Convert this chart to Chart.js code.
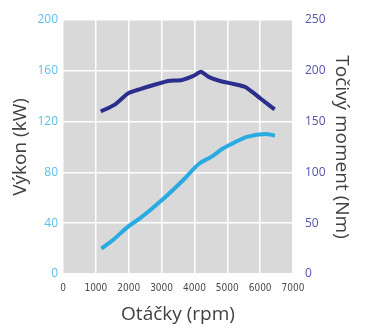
<!DOCTYPE html>
<html>
<head>
<meta charset="utf-8">
<script src="https://cdn.jsdelivr.net/npm/chart.js@4/dist/chart.umd.min.js"></script>
<style>
  html, body { margin: 0; padding: 0; background: #fff; }
  #wrap { width: 366px; height: 331px; }
</style>
</head>
<body>
<div id="wrap"><canvas id="myChart" width="366" height="331"></canvas></div>
<script>
// rpm values + readings
const powerRpm = [1170, 1530, 1990, 2350, 2960, 3660, 4150, 4500, 4880, 5250, 5600, 6160, 6450];
const powerKw = [20, 27, 37.5, 44, 57, 74, 87, 92, 99, 104, 108, 110.3, 109];
const torqueRpm = [1150, 1590, 1990, 2350, 2860, 3210, 3620, 3970, 4200, 4430, 4780, 5200, 5550, 6000, 6440];
const torqueNm = [160, 167, 178, 182, 187, 190, 191, 195, 199, 194, 190, 187, 184, 173, 162];
const xTicks = [0, 1000, 2000, 3000, 4000, 5000, 6000, 7000];
const leftTicks = [0, 40, 80, 120, 160, 200];
const rightTicks = [0, 50, 100, 150, 200, 250];

const toPoints = (xs, ys) => xs.map((x, i) => ({ x: x, y: ys[i] }));

// grey plot background
const plotBg = {
  id: 'plotBg',
  beforeDraw(chart) {
    const { ctx, chartArea } = chart;
    ctx.save();
    ctx.fillStyle = '#d9d9d9';
    ctx.fillRect(chartArea.left, chartArea.top, chartArea.right - chartArea.left, chartArea.bottom - chartArea.top);
    ctx.restore();
  }
};

const titleFont = { family: "'Open Sans', 'Noto Sans', sans-serif", size: 19 };

new Chart(document.getElementById('myChart').getContext('2d'), {
  type: 'line',
  data: {
    datasets: [
      {
        label: 'Výkon',
        data: toPoints(powerRpm, powerKw),
        yAxisID: 'y',
        borderColor: '#29abe2',
        borderWidth: 4,
        pointRadius: 0,
        tension: 0.3,
        cubicInterpolationMode: 'monotone'
      },
      {
        label: 'Točivý moment',
        data: toPoints(torqueRpm, torqueNm),
        yAxisID: 'y1',
        borderColor: '#2b2e8c',
        borderWidth: 4,
        pointRadius: 0,
        tension: 0.2
      }
    ]
  },
  options: {
    responsive: false,
    animation: false,
    layout: { padding: { top: 20, left: 0, right: 0, bottom: 0 } },
    plugins: { legend: { display: false }, tooltip: { enabled: false } },
    scales: {
      x: {
        type: 'linear',
        min: 0,
        max: 7000,
        afterBuildTicks: (s) => { s.ticks = xTicks.map(v => ({ value: v })); },
        afterFit: (s) => { s.height = 57; },
        grid: { color: '#ffffff', lineWidth: 1.5, drawTicks: false },
        border: { display: false },
        ticks: {
          padding: 8,
          maxRotation: 0,
          color: '#4a4a4a',
          font: { family: "'Liberation Sans Narrow', 'DejaVu Sans Condensed', sans-serif", size: 10 },
          callback: (v) => String(v)
        },
        title: { display: true, text: 'Otáčky (rpm)', color: '#404040', font: titleFont, padding: { top: 0, bottom: 5 } }
      },
      y: {
        position: 'left',
        min: 0,
        max: 200,
        afterBuildTicks: (s) => { s.ticks = leftTicks.map(v => ({ value: v })); },
        afterFit: (s) => { s.width = 63; },
        grid: { color: '#ffffff', lineWidth: 1.5, drawTicks: false },
        border: { display: false },
        ticks: { padding: 5, color: '#5bbfea', font: { family: "'Open Sans', sans-serif", size: 12 } },
        title: { display: true, text: 'Výkon (kW)', color: '#404040', font: titleFont, padding: { top: 9, bottom: 0 } }
      },
      y1: {
        position: 'right',
        min: 0,
        max: 250,
        afterBuildTicks: (s) => { s.ticks = rightTicks.map(v => ({ value: v })); },
        afterFit: (s) => { s.width = 73; },
        grid: { display: false },
        border: { display: false },
        ticks: { padding: 4, color: '#5552a8', font: { family: "'Open Sans', sans-serif", size: 12 } },
        title: { display: true, text: 'Točivý moment (Nm)', color: '#404040', font: titleFont, padding: { top: 13, bottom: 0 } }
      }
    }
  },
  plugins: [plotBg]
});
</script>
</body>
</html>
